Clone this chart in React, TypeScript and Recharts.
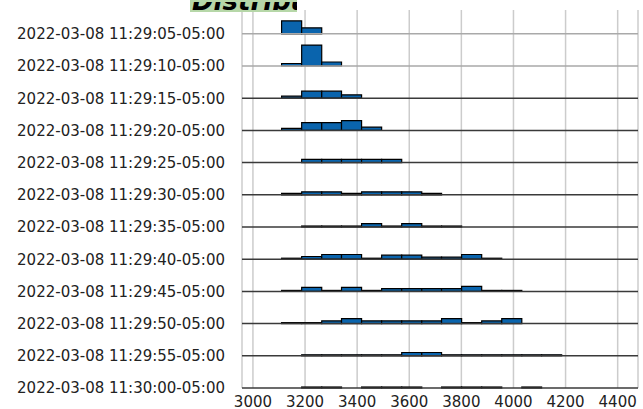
import { ComposedChart, XAxis, YAxis, CartesianGrid, ReferenceLine, ReferenceArea, Line } from 'recharts';

// histogram bin edges shared by every row
const binEdges = [3110, 3187, 3264, 3340, 3417, 3494, 3571, 3648, 3724, 3801, 3878, 3955, 4032, 4108, 4185];
const xTicks = [3000, 3200, 3400, 3600, 3800, 4000, 4200, 4400];

const timeLabels = [
  '2022-03-08 11:29:05-05:00',
  '2022-03-08 11:29:10-05:00',
  '2022-03-08 11:29:15-05:00',
  '2022-03-08 11:29:20-05:00',
  '2022-03-08 11:29:25-05:00',
  '2022-03-08 11:29:30-05:00',
  '2022-03-08 11:29:35-05:00',
  '2022-03-08 11:29:40-05:00',
  '2022-03-08 11:29:45-05:00',
  '2022-03-08 11:29:50-05:00',
  '2022-03-08 11:29:55-05:00',
  '2022-03-08 11:30:00-05:00',
];

// bar heights per bin (same units for every row)
const dens0505 = [13, 6, 0, 0, 0, 0, 0, 0, 0, 0, 0, 0, 0, 0];
const dens0510 = [2.5, 21, 4, 0, 0, 0, 0, 0, 0, 0, 0, 0, 0, 0];
const dens0515 = [2, 7, 7, 3.4, 0, 0, 0, 0, 0, 0, 0, 0, 0, 0];
const dens0520 = [2, 7.7, 7.7, 9.7, 3.3, 0, 0, 0, 0, 0, 0, 0, 0, 0];
const dens0525 = [0, 3.3, 3.3, 3.3, 3.3, 3.3, 0, 0, 0, 0, 0, 0, 0, 0];
const dens0530 = [1.5, 3, 3, 1.5, 3, 3, 3, 1.5, 0, 0, 0, 0, 0, 0];
const dens0535 = [0, 1, 1, 1, 3.3, 1, 3.3, 1, 1, 0, 0, 0, 0, 0];
const dens0540 = [1, 2.7, 4.7, 4.7, 1, 4, 4, 2, 2, 4.7, 1, 0, 0, 0];
const dens0545 = [1, 4, 1, 4, 1, 2.7, 2.7, 2.7, 2.7, 5, 1, 1, 0, 0];
const dens0550 = [1, 1, 2.7, 5, 2.7, 2.7, 2.7, 2.7, 5, 1, 2.7, 5, 0, 0];
const dens0555 = [0, 1, 1, 1, 1, 1, 3.3, 3.3, 1, 1, 1, 1, 1, 1];
const dens0600 = [0, 1, 1, 0, 1, 1, 1, 0, 1, 1, 1, 0, 1, 0];

const densities = [
  dens0505, dens0510, dens0515, dens0520, dens0525, dens0530,
  dens0535, dens0540, dens0545, dens0550, dens0555, dens0600,
];

const ROW_SCALE = 32.2;
const BLUE = '#0a64ad';
const font = { fill: '#222', fontSize: 15, fontFamily: 'DejaVu Sans' };

// bin edges along the bottom row, only so the axes have data to work from
const edgeRows = binEdges.map((e) => ({ edge: e, base: 0 }));

export default function App() {
  const n = timeLabels.length;
  const rowTicks = timeLabels.map((_, i) => i);

  return (
    <div style={{ position: 'absolute', left: 0, top: 0, width: 643, height: 409, background: '#fff' }}>
      <ComposedChart width={643} height={409} data={edgeRows} margin={{ top: 10, right: 5, bottom: 0, left: 0 }}>
        <CartesianGrid horizontal={false} stroke="#cccccc" strokeWidth={1.5} />
        <XAxis
          type="number"
          dataKey="edge"
          domain={[2958, 4478]}
          ticks={xTicks}
          interval={0}
          allowDataOverflow
          axisLine={false}
          tickLine={false}
          tickSize={0}
          tickMargin={8}
          height={21}
          tick={font}
        />
        <YAxis
          type="number"
          domain={[0, 11.74]}
          ticks={rowTicks}
          interval={0}
          allowDataOverflow
          axisLine={false}
          tickLine={false}
          tickSize={0}
          tickMargin={17}
          width={242}
          tick={font}
          tickFormatter={(v: number) => timeLabels[n - 1 - v]}
        />
        {timeLabels.map((lab, i) => (
          <ReferenceLine
            key={'base' + lab}
            y={n - 1 - i}
            stroke={i < 2 ? '#a9a9a9' : '#3a3a3a'}
            strokeWidth={1.5}
          />
        ))}
        <Line dataKey="base" stroke="none" dot={false} activeDot={false} isAnimationActive={false} />
        {densities.map((row, i) =>
          row.map((v, b) =>
            v > 0 ? (
              <ReferenceArea
                key={'bar' + i + '-' + b}
                x1={binEdges[b]}
                x2={binEdges[b + 1]}
                y1={n - 1 - i}
                y2={n - 1 - i + v / ROW_SCALE}
                fill={BLUE}
                fillOpacity={1}
                stroke="#000"
                strokeWidth={1.2}
                ifOverflow="visible"
              />
            ) : null
          )
        )}
      </ComposedChart>
      <div style={{ position: 'absolute', left: 190, top: 0, width: 107, height: 12, background: '#b6d7a8', overflow: 'hidden' }}>
        <svg width={107} height={12}>
          <text x={2} y={8} fontSize={26} fontWeight="bold" fontStyle="italic" fontFamily="DejaVu Sans" fill="#000">
            Distribution
          </text>
        </svg>
      </div>
    </div>
  );
}
